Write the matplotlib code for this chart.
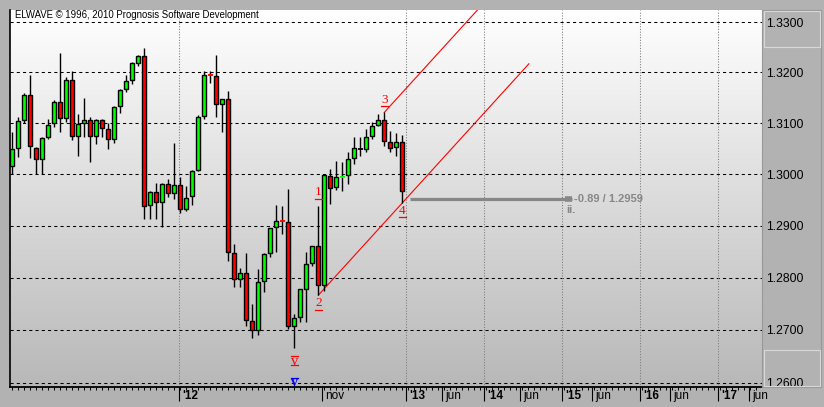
import numpy as np
import matplotlib
matplotlib.use('Agg')
import matplotlib.pyplot as plt
from matplotlib import transforms
from matplotlib.patches import Rectangle
from matplotlib.colors import LinearSegmentedColormap
from matplotlib.ticker import FixedLocator, FixedFormatter, NullLocator, NullFormatter

# 蜡烛数据 (开 高 低 收)
opens = [1.3015, 1.3052, 1.3106, 1.3155, 1.3052, 1.3029, 1.3072, 1.3100, 1.3142, 1.3110,
         1.3184, 1.3074, 1.3100, 1.3106, 1.3074, 1.3106, 1.3088, 1.3068, 1.3133, 1.3167,
         1.3184, 1.3219, 1.3233, 1.2940, 1.2965, 1.2946, 1.2980, 1.2963, 1.2978, 1.2932,
         1.2957, 1.3009, 1.3113, 1.3194, 1.3192, 1.3137, 1.3147, 1.2848, 1.2798, 1.2808,
         1.2716, 1.2700, 1.2794, 1.2848, 1.2897, 1.2909, 1.2907, 1.2707, 1.2724, 1.2778,
         1.2827, 1.2860, 1.2785, 1.2996, 1.2974, 1.2995, 1.2998, 1.3031, 1.3050, 1.3049,
         1.3075, 1.3096, 1.3106, 1.3063, 1.3053, 1.3063]
highs = [1.3083, 1.3111, 1.3159, 1.3195, 1.3053, 1.3072, 1.3108, 1.3146, 1.3239, 1.3190,
         1.3203, 1.3118, 1.3149, 1.3112, 1.3108, 1.3108, 1.3100, 1.3133, 1.3167, 1.3195,
         1.3220, 1.3235, 1.3248, 1.2967, 1.2982, 1.2982, 1.2990, 1.3060, 1.2994, 1.2977,
         1.3008, 1.3115, 1.3203, 1.3203, 1.3234, 1.3147, 1.3163, 1.2864, 1.2818, 1.2848,
         1.2749, 1.2817, 1.2848, 1.2896, 1.2940, 1.2938, 1.2971, 1.2730, 1.2778, 1.2850,
         1.2860, 1.2938, 1.2999, 1.3010, 1.3026, 1.3024, 1.3044, 1.3073, 1.3073, 1.3088,
         1.3102, 1.3118, 1.3121, 1.3084, 1.3080, 1.3076]
lows = [1.3001, 1.3033, 1.3100, 1.3031, 1.3001, 1.3001, 1.3068, 1.3093, 1.3083, 1.3103,
        1.3066, 1.3036, 1.3073, 1.3023, 1.3058, 1.3073, 1.3049, 1.3060, 1.3119, 1.3161,
        1.3177, 1.3213, 1.2912, 1.2912, 1.2912, 1.2897, 1.2955, 1.2951, 1.2924, 1.2928,
        1.2939, 1.3006, 1.3108, 1.3178, 1.3111, 1.3083, 1.2832, 1.2781, 1.2781, 1.2707,
        1.2684, 1.2691, 1.2772, 1.2840, 1.2849, 1.2884, 1.2702, 1.2665, 1.2714, 1.2715,
        1.2822, 1.2766, 1.2775, 1.2941, 1.2970, 1.2967, 1.2981, 1.3020, 1.3035, 1.3043,
        1.3069, 1.3094, 1.3054, 1.3043, 1.3035, 1.2944]
closes = [1.3050, 1.3104, 1.3155, 1.3054, 1.3029, 1.3070, 1.3096, 1.3142, 1.3110, 1.3184,
          1.3074, 1.3098, 1.3106, 1.3074, 1.3106, 1.3090, 1.3068, 1.3131, 1.3165, 1.3182,
          1.3218, 1.3233, 1.2938, 1.2965, 1.2946, 1.2980, 1.2963, 1.2978, 1.2932, 1.2953,
          1.3007, 1.3111, 1.3194, 1.3193, 1.3137, 1.3147, 1.2850, 1.2798, 1.2808, 1.2718,
          1.2700, 1.2792, 1.2846, 1.2896, 1.2909, 1.2908, 1.2707, 1.2722, 1.2777, 1.2825,
          1.2860, 1.2785, 1.2998, 1.2973, 1.2994, 1.2996, 1.3029, 1.3051, 1.3050, 1.3073,
          1.3094, 1.3106, 1.3065, 1.3051, 1.3063, 1.2967]

# 价格轴刻度
price_ticks = [1.26, 1.27, 1.28, 1.29, 1.30, 1.31, 1.32, 1.33]

# 时间轴刻度 (按K线序号)
time_ticks = [27.8, 51.7, 65.7, 71.7, 78.6, 84.6, 91.7, 96.7, 104.7, 109.7, 117.7, 122.8]
time_labels = ["'12", "nov", "'13", "jun", "'14", "jun", "'15", "jun", "'16", "jun", "'17", "jun"]
year_ticks = [27.8, 65.7, 78.6, 91.7, 104.7, 117.7]

# 波浪标注: (文字, K线序号, 高/低点, 文字偏移px, 线偏移px)
wave_labels = [('1', 51, 'H', 14, [7]),
               ('2', 51, 'L', -8, [-15]),
               ('3', 62, 'H', 12, [6]),
               ('4', 65, 'L', -8, [-14])]

# 目标价位线
target_price = 1.2952
target_start, target_end = 66.3, 93.3
target_text = '-0.89 / 1.2959'

plt.rcParams['font.family'] = ['Liberation Sans', 'DejaVu Sans']

W, H = 824, 407
fig = plt.figure(figsize=(W / 100, H / 100), dpi=100, facecolor='#b2b2b2')
ax = fig.add_axes([10 / W, 20 / H, 752 / W, 377 / H])
ax.set_facecolor('none')
ax.set_yscale('log')

# 背景渐变
cmap = LinearSegmentedColormap.from_list('bg', ['#ffffff', '#b8b8b8'])
ax.imshow(np.linspace(0, 1, 256).reshape(-1, 1), cmap=cmap, extent=[0, 1, 0, 1],
          transform=ax.transAxes, aspect='auto', zorder=0)

# 网格
for p in price_ticks:
    ax.axhline(p, color='black', lw=0.75, ls=(0, (3, 3)), zorder=1)
for t in year_ticks:
    ax.axvline(t, color='#7a7a7a', lw=0.75, ls=(0, (1, 1.6)), zorder=1)

# K线
x = np.arange(len(opens))
o = np.array(opens)
c = np.array(closes)
ax.vlines(x, lows, highs, color='black', lw=1.0, zorder=4)
body = np.abs(c - o) > 0.0002
cols = np.where(c >= o, '#00ff00', '#ff0000')
ax.bar(x[body], np.abs(c - o)[body], bottom=np.minimum(o, c)[body], width=0.72,
       color=cols[body], edgecolor='black', linewidth=1.0, zorder=5)
for i in x[~body]:
    dc = 'black' if c[i] == o[i] else cols[i]
    ax.hlines(o[i], i - 0.4, i + 0.4, color=dc, lw=1.3, zorder=5)

# 通道线 (2-4 连线及过3点的平行线)
slope = (np.log(lows[65]) - np.log(lows[51])) / (65 - 51)
chan_end = 86.1
ax.plot([51, chan_end], [lows[51], lows[51] * np.exp(slope * (chan_end - 51))],
        color='#ff0000', lw=0.8, zorder=3)
ax.plot([62, chan_end], [highs[62], highs[62] * np.exp(slope * (chan_end - 62))],
        color='#ff0000', lw=0.8, zorder=3)


def shifted(dy, base=None):
    return transforms.offset_copy(base or ax.transData, fig=fig, x=0, y=dy, units='dots')


for txt, i, hl, dy, lines in wave_labels:
    p = highs[i] if hl == 'H' else lows[i]
    ax.text(i, p, txt, color='#ff0000', fontsize=9.5, family='Liberation Serif',
            ha='center', va='center', transform=shifted(dy), zorder=6)
    for ly in lines:
        ax.plot([i - 0.55, i + 0.55], [p, p], color='#ff0000', lw=0.9,
                transform=shifted(ly), zorder=6)

# 罗马数字 v
ax.text(47, lows[47], 'v', color='#ff0000', fontsize=10.5, family='Liberation Serif',
        ha='center', va='center', transform=shifted(-13), zorder=6)
for ly in [-8, -17]:
    ax.plot([46.45, 47.55], [lows[47]] * 2, color='#ff0000', lw=0.9, transform=shifted(ly), zorder=6)
xa = ax.get_xaxis_transform()
ax.text(47, 0, 'v', color='#0000ff', fontsize=10, family='Liberation Serif', fontweight='bold',
        ha='center', va='center', transform=shifted(5, xa), zorder=6)
ax.plot([46.45, 47.55], [0, 0], color='#0000ff', lw=0.9, transform=shifted(9, xa), zorder=6)

# 目标价位
ax.hlines(target_price, target_start, target_end, color='#878787', lw=2.3, zorder=2)
ax.hlines(target_price, target_end - 1.2, target_end, color='#878787', lw=4, zorder=2)
ax.text(target_end + 0.4, target_price, target_text, color='#878787', fontsize=8,
        fontweight='bold', va='center', ha='left', zorder=6)
ax.text(target_end - 1.0, target_price, 'ii.', color='#878787', fontsize=8,
        fontweight='bold', va='center', ha='left', transform=shifted(-11), zorder=6)

# 坐标轴
ax.set_xlim(-0.383, 124.95)
ax.set_ylim(1.25915, 1.33240)
ax.yaxis.set_major_locator(FixedLocator(price_ticks))
ax.yaxis.set_major_formatter(FixedFormatter(['%.4f' % p for p in price_ticks]))
ax.yaxis.set_minor_locator(NullLocator())
ax.yaxis.set_minor_formatter(NullFormatter())
ax.yaxis.tick_right()
ax.tick_params(axis='y', length=0, pad=3, labelsize=8.7, labelcolor='black')

ax.set_xticks(time_ticks)
ax.set_xticklabels([])
ax.set_xticks(np.arange(0, 125), minor=True)
ax.tick_params(axis='x', which='major', length=10, width=0.8, color='black')
ax.tick_params(axis='x', which='minor', length=2.2, width=0.7, color='black')
lbl_trans = transforms.offset_copy(xa, fig=fig, x=3, y=-9, units='dots')
for t, lab in zip(time_ticks, time_labels):
    ax.text(t, 0, lab, fontsize=8.5, fontweight='bold' if lab.startswith("'") else 'normal',
            ha='left', va='center', transform=lbl_trans, clip_on=False)

for s in ['top', 'right']:
    ax.spines[s].set_visible(False)
ax.spines['left'].set_linewidth(1.2)
ax.spines['bottom'].set_linewidth(1.3)

# 标题
fig.text(15 / W, 1 - 15 / H, 'ELWAVE \u00a9 1996, 2010 Prognosis Software Development',
         fontsize=6.9, va='center', ha='left')

# 右侧价格面板
fig.add_artist(Rectangle((762 / W, 20 / H), 59 / W, 377 / H, transform=fig.transFigure,
                         facecolor='none', edgecolor='#989898', lw=0.8))
for y0 in [360, 21]:
    fig.add_artist(Rectangle((764 / W, y0 / H), 56 / W, 36 / H, transform=fig.transFigure,
                             facecolor='none', edgecolor='#d8d8d8', lw=0.8))

fig.savefig('out.png', dpi=100, facecolor=fig.get_facecolor())
